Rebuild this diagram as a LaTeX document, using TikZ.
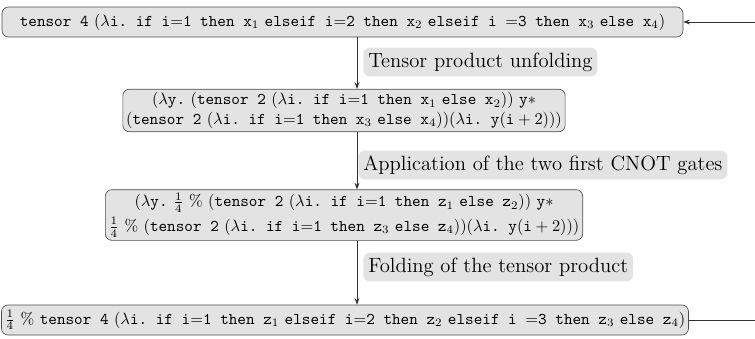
\documentclass[tikz,border=0pt]{standalone}
\usetikzlibrary{arrows.meta}
\newcommand\tx[1]{\texttt{#1}}
\frenchspacing
\begin{document}
\begin{tikzpicture}[x=0.61pt,y=-0.61pt,
  term/.style={draw=black!70,fill=black!11,rounded corners=4pt,inner sep=2pt,align=center,font=\normalsize},
  steplabel/.style={fill=black!11,rounded corners=4pt,inner sep=3pt,anchor=west,font=\fontsize{12.6}{15}\selectfont},
  flow/.style={-{Stealth[length=4pt,width=3pt]},black!80,line width=0.5pt}]
\useasboundingbox (0,0) rectangle (755,338);

\node[term,minimum width=681*0.61pt,minimum height=30*0.61pt] (t1) at (342.5,22)
  {\tx{tensor 4} $(\lambda$\tx{i. if i}$=$\tx{1 then x}$_1$ \tx{elseif i}$=$\tx{2 then x}$_2$ \tx{elseif i }$=$\tx{3 then x}$_3$ \tx{else x}$_4)$};

\node[term,minimum width=428*0.61pt,minimum height=41*0.61pt] (t2) at (344,110.5)
  {$(\lambda$\tx{y.} $($\tx{tensor 2} $(\lambda$\tx{i. if i}$=$\tx{1 then x}$_1$ \tx{else x}$_2))$ \tx{y}$*$\\
   $($\tx{tensor 2} $(\lambda$\tx{i. if i}$=$\tx{1 then x}$_3$ \tx{else x}$_4))(\lambda$\tx{i. y}$(\mathtt{i}+2)))$};

\node[term,minimum width=458*0.61pt,minimum height=50*0.61pt] (t3) at (344,215)
  {$(\lambda$\tx{y.} $\frac{1}{4}$ \% $($\tx{tensor 2} $(\lambda$\tx{i. if i}$=$\tx{1 then z}$_1$ \tx{else z}$_2))$ \tx{y}$*$\\[3pt]
   $\frac{1}{4}$ \% $($\tx{tensor 2} $(\lambda$\tx{i. if i}$=$\tx{1 then z}$_3$ \tx{else z}$_4))(\lambda$\tx{i. y}$(\mathtt{i}+2)))$};

\node[term,minimum width=686*0.61pt,minimum height=30*0.61pt] (t4) at (345,320)
  {$\frac{1}{4}$ \% \tx{tensor 4} $(\lambda$\tx{i. if i}$=$\tx{1 then z}$_1$ \tx{elseif i}$=$\tx{2 then z}$_2$ \tx{elseif i }$=$\tx{3 then z}$_3$ \tx{else z}$_4)$};

\coordinate (ax) at (357,0);
\draw[flow] (t1.south -| ax) -- (t2.north -| ax);
\draw[flow] (t2.south -| ax) -- (t3.north -| ax);
\draw[flow] (t3.south -| ax) -- (t4.north -| ax);

\node[steplabel] (l1) at (363,62) {Tensor product unfolding};
\node[steplabel] (l2) at (358,165) {Application of the two first CNOT gates};
\node[steplabel] (l3) at (363,267) {Folding of the tensor product};

\coordinate (r1) at (755,22);
\coordinate (r4) at (755,320);
\draw[flow] (r1) -- (t1.east);
\draw[black!80,line width=0.5pt] (t4.east) -- (r4);
\end{tikzpicture}
\end{document}
